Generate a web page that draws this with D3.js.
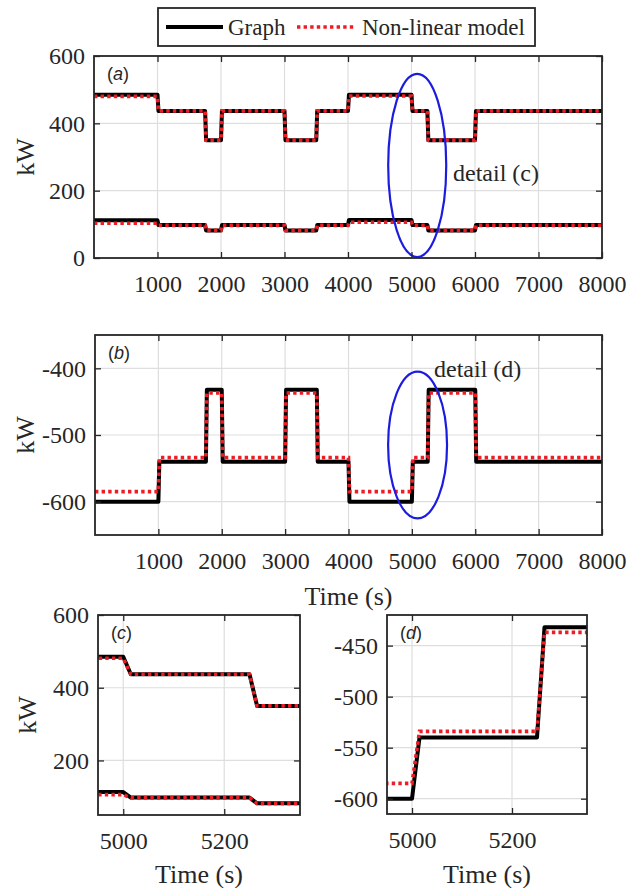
<!DOCTYPE html>
<html>
<head>
<meta charset="utf-8">
<script src="https://cdn.jsdelivr.net/npm/d3@7"></script>
<style>
  body { margin: 0; background: #fff; }
  svg text { font-family: "Liberation Serif", "Times New Roman", serif; fill: #262626; }
</style>
</head>
<body>
<script>
// step changes of the set-points (s) and the levels held after each one
const stepStarts = [0, 1000, 1750, 2000, 3000, 3500, 4000, 5000, 5250, 6000];
const timeEnd = 8000;
const rampSec = 15;

const upperGraph = [485, 437, 350, 437, 350, 437, 485, 437, 350, 437];
const upperModel = [480, 437, 350, 437, 350, 437, 481, 437, 350, 437];
const lowerGraph = [112, 98, 82, 98, 82, 98, 113, 98, 82, 98];
const lowerModel = [103, 97, 82, 97, 82, 97, 106, 97, 82, 97];
const gridGraph = [-600, -540, -432, -540, -432, -540, -600, -540, -432, -540];
const gridModel = [-585, -534, -437, -534, -437, -534, -585, -534, -437, -534];

const timeTicks = [1000, 2000, 3000, 4000, 5000, 6000, 7000, 8000];
const detailTicks = [5000, 5200];
const kwTicksA = [0, 200, 400, 600];
const kwTicksB = [-600, -500, -400];
const kwTicksC = [200, 400, 600];
const kwTicksD = [-600, -550, -500, -450];

// blue "detail" ellipses, in data units: centre time, centre kW, half-width (s), half-height (kW)
const ellipseA = [5090, 275, 457, 272];
const ellipseB = [5090, -515, 465, 110];

const serif = "Liberation Serif";
const width = 628, height = 888;
const svg = d3.select("body").append("svg")
  .attr("width", width)
  .attr("height", height);

function steps(levels) {
  const pts = [];
  levels.forEach((v, i) => {
    const t0 = i === 0 ? stepStarts[i] : stepStarts[i] + rampSec;
    const t1 = i < levels.length - 1 ? stepStarts[i + 1] : timeEnd;
    pts.push([t0, v], [t1, v]);
  });
  return pts;
}

let clipId = 0;
function panel(p) {
  const x = d3.scaleLinear().domain(p.xDomain).range([p.left, p.right]);
  const y = d3.scaleLinear().domain(p.yDomain).range([p.bottom, p.top]);
  const g = svg.append("g");

  // grid
  g.append("g").selectAll("line")
    .data(p.xTicks.filter(t => x(t) > p.left + 1 && x(t) < p.right - 1))
    .join("line")
    .attr("x1", d => x(d)).attr("x2", d => x(d))
    .attr("y1", p.top).attr("y2", p.bottom)
    .attr("stroke", "#dedede").attr("stroke-width", 1.2);
  g.append("g").selectAll("line")
    .data(p.yTicks.filter(t => y(t) > p.top + 1 && y(t) < p.bottom - 1))
    .join("line")
    .attr("y1", d => y(d)).attr("y2", d => y(d))
    .attr("x1", p.left).attr("x2", p.right)
    .attr("stroke", "#dedede").attr("stroke-width", 1.2);

  // lines
  const id = "clip" + (clipId++);
  svg.append("clipPath").attr("id", id).append("rect")
    .attr("x", p.left).attr("y", p.top)
    .attr("width", p.right - p.left).attr("height", p.bottom - p.top);
  const line = d3.line().x(d => x(d[0])).y(d => y(d[1]));
  const lines = g.append("g").attr("clip-path", `url(#${id})`);
  p.series.forEach(s => {
    lines.append("path")
      .attr("d", line(steps(s.graph)))
      .attr("fill", "none").attr("stroke", "#000").attr("stroke-width", 4)
      .attr("stroke-linejoin", "round");
  });
  p.series.forEach(s => {
    lines.append("path")
      .attr("d", line(steps(s.model)))
      .attr("fill", "none").attr("stroke", "#ee1c25").attr("stroke-width", 3.6)
      .attr("stroke-dasharray", "3.4,3.2");
  });

  if (p.ellipse) {
    const [et, ek, dt, dk] = p.ellipse;
    g.append("ellipse")
      .attr("cx", x(et)).attr("cy", y(ek))
      .attr("rx", x(et + dt) - x(et)).attr("ry", y(ek) - y(ek + dk))
      .attr("fill", "none").attr("stroke", "#1c1ce0").attr("stroke-width", 2.2);
  }

  // axes (inward ticks, labels on left and bottom)
  const xb = g.append("g").attr("transform", `translate(0,${p.bottom})`)
    .call(d3.axisBottom(x).tickValues(p.xTicks).tickSize(-6).tickPadding(17).tickFormat(d => String(d)));
  const yl = g.append("g").attr("transform", `translate(${p.left},0)`)
    .call(d3.axisLeft(y).tickValues(p.yTicks).tickSize(-6).tickPadding(9).tickFormat(d => String(d)));
  g.append("g").attr("transform", `translate(0,${p.top})`)
    .call(d3.axisTop(x).tickValues(p.xTicks).tickSize(-6).tickFormat(""));
  g.append("g").attr("transform", `translate(${p.right},0)`)
    .call(d3.axisRight(y).tickValues(p.yTicks).tickSize(-6).tickFormat(""));
  g.selectAll(".domain").remove();
  g.selectAll(".tick line").attr("stroke", "#262626").attr("stroke-width", 1.3);
  [xb, yl].forEach(a => {
    a.attr("font-family", serif).attr("font-size", 24);
    a.selectAll("text").attr("fill", "#262626");
  });

  g.append("rect")
    .attr("x", p.left).attr("y", p.top)
    .attr("width", p.right - p.left).attr("height", p.bottom - p.top)
    .attr("fill", "none").attr("stroke", "#262626").attr("stroke-width", 1.8);

  // panel tag
  const tag = g.append("text")
    .attr("x", p.left + 13).attr("y", p.top + 24)
    .style("font-family", "Liberation Sans, Arial, sans-serif")
    .attr("font-size", 18);
  tag.append("tspan").text("(");
  tag.append("tspan").attr("font-style", "italic").text(p.tag);
  tag.append("tspan").text(")");

  if (p.yLabel) {
    g.append("text")
      .attr("transform", `translate(${p.yLabelX},${(p.top + p.bottom) / 2}) rotate(-90)`)
      .attr("text-anchor", "middle").attr("dy", "0.35em")
      .attr("font-size", 26).text("kW");
  }
  if (p.xLabel) {
    g.append("text")
      .attr("x", (p.left + p.right) / 2).attr("y", p.xLabelY)
      .attr("text-anchor", "middle")
      .attr("font-size", 26).text("Time (s)");
  }
  if (p.note) {
    g.append("text")
      .attr("x", p.note[0]).attr("y", p.note[1])
      .attr("font-size", 24).text(p.note[2]);
  }
}

panel({
  left: 94, right: 602, top: 56, bottom: 258,
  xDomain: [0, 8000], yDomain: [0, 600],
  xTicks: timeTicks, yTicks: kwTicksA, tag: "a",
  series: [{graph: upperGraph, model: upperModel}, {graph: lowerGraph, model: lowerModel}],
  ellipse: ellipseA, yLabel: true, yLabelX: 25,
  note: [453, 181, "detail (c)"]
});

panel({
  left: 95, right: 602, top: 335, bottom: 535,
  xDomain: [0, 8000], yDomain: [-650, -350],
  xTicks: timeTicks, yTicks: kwTicksB, tag: "b",
  series: [{graph: gridGraph, model: gridModel}],
  ellipse: ellipseB, yLabel: true, yLabelX: 25,
  xLabel: true, xLabelY: 605,
  note: [434, 377, "detail (d)"]
});

panel({
  left: 98, right: 300, top: 615, bottom: 815,
  xDomain: [4950, 5350], yDomain: [50, 600],
  xTicks: detailTicks, yTicks: kwTicksC, tag: "c",
  series: [{graph: upperGraph, model: upperModel}, {graph: lowerGraph, model: lowerModel}],
  yLabel: true, yLabelX: 27,
  xLabel: true, xLabelY: 883
});

panel({
  left: 387, right: 587, top: 615, bottom: 814,
  xDomain: [4950, 5350], yDomain: [-615, -420],
  xTicks: detailTicks, yTicks: kwTicksD, tag: "d",
  series: [{graph: gridGraph, model: gridModel}],
  xLabel: true, xLabelY: 883
});

// legend
const legend = svg.append("g");
legend.append("rect")
  .attr("x", 158).attr("y", 8).attr("width", 377).attr("height", 38)
  .attr("fill", "#fff").attr("stroke", "#262626").attr("stroke-width", 1.8);
legend.append("line")
  .attr("x1", 166).attr("x2", 223).attr("y1", 27).attr("y2", 27)
  .attr("stroke", "#000").attr("stroke-width", 4);
legend.append("text").attr("x", 228).attr("y", 35).attr("font-size", 23).text("Graph");
legend.append("line")
  .attr("x1", 297).attr("x2", 355).attr("y1", 27).attr("y2", 27)
  .attr("stroke", "#ee1c25").attr("stroke-width", 3.6).attr("stroke-dasharray", "3.4,3.2");
legend.append("text").attr("x", 362).attr("y", 35).attr("font-size", 23).text("Non-linear model");
</script>
</body>
</html>
